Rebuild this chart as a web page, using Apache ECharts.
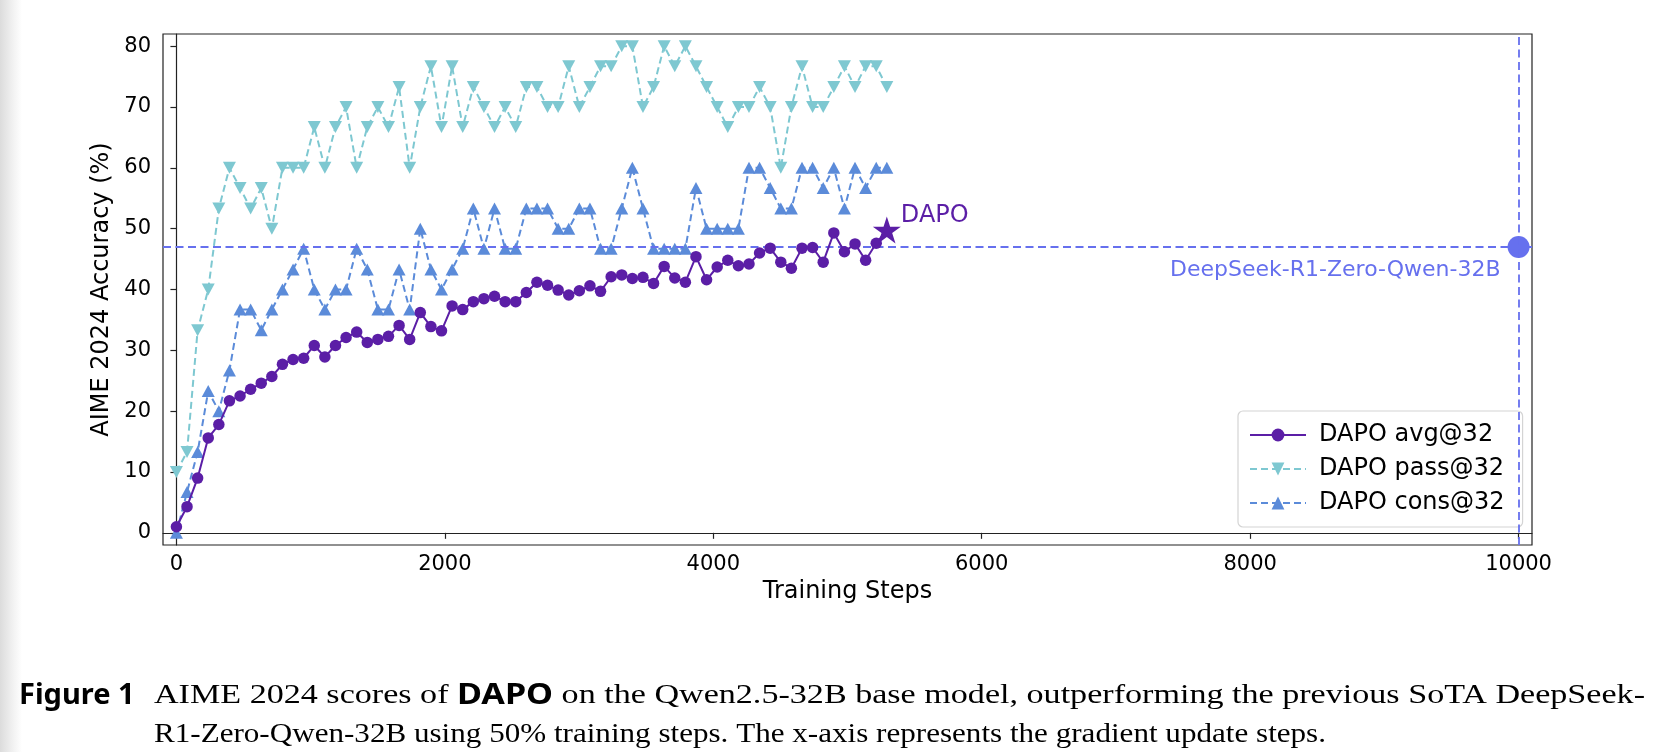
<!DOCTYPE html>
<html>
<head>
<meta charset="utf-8">
<script src="https://cdn.jsdelivr.net/npm/echarts@6.0.0/dist/echarts.min.js"></script>
<style>
html,body{margin:0;padding:0;background:#ffffff;}
#chart{width:1666px;height:752px;}
</style>
</head>
<body>
<div id="chart"></div>
<script>
// ---------------- data ----------------
const steps = [0,79,158,237,316,395,474,553,632,711,790,869,948,1027,1106,1185,1264,1343,1422,1501,1580,1659,1738,1817,1896,1975,2054,2133,2212,2291,2370,2449,2528,2607,2686,2765,2844,2923,3002,3081,3160,3239,3318,3397,3476,3555,3634,3713,3792,3871,3950,4029,4108,4187,4266,4345,4424,4503,4582,4661,4740,4819,4898,4977,5056,5135,5214,5293];
const avg32 = [1.0,4.3,9.0,15.6,17.8,21.7,22.5,23.6,24.6,25.7,27.7,28.5,28.7,30.8,28.9,30.8,32.1,33.0,31.3,31.8,32.3,34.1,31.8,36.2,33.9,33.2,37.3,36.7,38.0,38.5,38.9,38.0,38.0,39.5,41.2,40.7,39.9,39.1,39.8,40.6,39.7,42.1,42.4,41.8,42.0,41.0,43.8,41.9,41.2,45.4,41.6,43.7,44.8,43.9,44.2,46.0,46.8,44.5,43.5,46.8,46.9,44.5,49.3,46.2,47.5,44.8,47.6,49.8];
const pass32 = [10,13.3,33.3,40,53.3,60,56.7,53.3,56.7,50,60,60,60,66.7,60,66.7,70,60,66.7,70,66.7,73.3,60,70,76.7,66.7,76.7,66.7,73.3,70,66.7,70,66.7,73.3,73.3,70,70,76.7,70,73.3,76.7,76.7,80,80,70,73.3,80,76.7,80,76.7,73.3,70,66.7,70,70,73.3,70,60,70,76.7,70,70,73.3,76.7,73.3,76.7,76.7,73.3];
const cons32 = [0,6.7,13.3,23.3,20,26.7,36.7,36.7,33.3,36.7,40,43.3,46.7,40,36.7,40,40,46.7,43.3,36.7,36.7,43.3,36.7,50,43.3,40,43.3,46.7,53.3,46.7,53.3,46.7,46.7,53.3,53.3,53.3,50,50,53.3,53.3,46.7,46.7,53.3,60,53.3,46.7,46.7,46.7,46.7,56.7,50,50,50,50,60,60,56.7,53.3,53.3,60,60,56.7,60,53.3,60,56.7,60,60];
const seriesNames = ['DAPO avg@32','DAPO pass@32','DAPO cons@32'];
const xTicks = [0,2000,4000,6000,8000,10000];
const yTicks = [0,10,20,30,40,50,60,70,80];
const xRange = [-100, 10100];
const yRange = [-2, 82];
const baselineName = 'DeepSeek-R1-Zero-Qwen-32B';
const baselineStep = [10000];
const baselineScore = [47];
const finalLabel = 'DAPO';

// ---------------- styles ----------------
const C_AVG = '#5b1ea6', C_PASS = '#7ec8d1', C_CONS = '#5b8bd9', C_DS = '#6670ee';
const FONT = 'DejaVu Sans';
const STAR = 'path://M0,-1L0.2245,-0.309L0.951,-0.309L0.363,0.118L0.588,0.809L0,0.382L-0.588,0.809L-0.363,0.118L-0.951,-0.309L-0.2245,-0.309Z';

const avgData = steps.map((s, i) => {
  if (i === steps.length - 1) {
    return {
      value: [s, avg32[i]], symbol: STAR, symbolSize: [28, 27],
      label: {show: true, formatter: finalLabel, position: 'right', distance: 0, offset: [0, -14],
              color: C_AVG, fontSize: 24, fontFamily: FONT}
    };
  }
  return [s, avg32[i]];
});
const passData = steps.map((s, i) => [s, pass32[i]]);
const consData = steps.map((s, i) => [s, cons32[i]]);

// caption measurement
function mw(font, text) {
  const c = document.createElement('canvas').getContext('2d');
  c.font = font; return c.measureText(text).width;
}
const SERIF = '28px "Liberation Serif"';
const BOLD = 'bold 28px "Noto Sans"';
const cap1a = 'AIME 2024 scores of ', cap1b = 'DAPO', cap1c = ' on the Qwen2.5-32B base model, outperforming the previous SoTA DeepSeek-';
const cap2 = 'R1-Zero-Qwen-32B using 50% training steps. The x-axis represents the gradient update steps.';
const w1 = mw(SERIF, cap1a) + mw(BOLD, cap1b) + mw(SERIF, cap1c);
const w2 = mw(SERIF, cap2);
const sx1 = 1491 / w1, sx2 = 1172 / w2;
const rich = {
  s: {fontFamily: 'Liberation Serif', fontSize: 28, color: '#111'},
  b: {fontFamily: 'Noto Sans', fontWeight: 'bold', fontSize: 28, color: '#111'},
  f: {fontFamily: 'Noto Sans', fontWeight: 'bold', fontSize: 29, color: '#111'}
};
const plain = v => String(v);

const chart = echarts.init(document.getElementById('chart'), null, {renderer: 'canvas'});
chart.setOption({
  animation: false,
  backgroundColor: '#ffffff',
  grid: {left: 163, top: 34, right: 134, bottom: 207, show: true, borderColor: '#222', borderWidth: 1.2, backgroundColor: 'transparent'},
  xAxis: {
    type: 'value', min: xRange[0], max: xRange[1],
    name: 'Training Steps', nameLocation: 'middle', nameGap: 26,
    nameTextStyle: {fontFamily: FONT, fontSize: 24, color: '#000'},
    axisLine: {show: true, lineStyle: {color: '#222', width: 1.2}},
    axisTick: {show: true, length: 6, lineStyle: {color: '#222', width: 1.2}, customValues: xTicks},
    axisLabel: {fontFamily: FONT, fontSize: 21, color: '#000', margin: 9, customValues: xTicks, formatter: plain},
    splitLine: {show: false}
  },
  yAxis: {
    type: 'value', min: yRange[0], max: yRange[1],
    name: 'AIME 2024 Accuracy (%)', nameLocation: 'middle', nameGap: 34,
    nameTextStyle: {fontFamily: FONT, fontSize: 24, color: '#000'},
    axisLine: {show: true, lineStyle: {color: '#222', width: 1.2}},
    axisTick: {show: true, length: 6, lineStyle: {color: '#222', width: 1.2}, customValues: yTicks},
    axisLabel: {fontFamily: FONT, fontSize: 21, color: '#000', margin: 12, customValues: yTicks, formatter: plain},
    splitLine: {show: false}
  },
  legend: {
    data: seriesNames, orient: 'vertical', left: 1238, top: 411,
    padding: [12, 18, 12, 11], itemGap: 10, itemWidth: 56, itemHeight: 16,
    backgroundColor: 'rgba(255,255,255,0.85)', borderColor: '#d4d4d4', borderWidth: 1.2, borderRadius: 5,
    textStyle: {fontFamily: FONT, fontSize: 24, color: '#000', padding: [0, 0, 0, 8]},
    selectedMode: false
  },
  series: [
    {
      name: baselineName, type: 'scatter', data: baselineStep.map((s, i) => [s, baselineScore[i]]),
      symbol: 'circle', symbolSize: 22, itemStyle: {color: C_DS, opacity: 1}, z: 1, clip: false,
      label: {show: true, formatter: baselineName, position: 'left', distance: 7, offset: [0, 23],
              color: C_DS, opacity: 1, fontSize: 22, fontFamily: FONT},
      markLine: {
        silent: true, symbol: ['none', 'none'], animation: false,
        lineStyle: {color: C_DS, type: [8, 4.5], width: 1.8, opacity: 1},
        label: {show: false},
        data: [{yAxis: baselineScore[0]}, {xAxis: baselineStep[0]}]
      }
    },
    {
      name: seriesNames[1], type: 'line', data: passData, clip: false, z: 3,
      symbol: 'triangle', symbolRotate: 180, symbolSize: [13, 12], showSymbol: true,
      itemStyle: {color: C_PASS}, lineStyle: {color: C_PASS, width: 2, type: [7, 4]}
    },
    {
      name: seriesNames[2], type: 'line', data: consData, clip: false, z: 4,
      symbol: 'triangle', symbolSize: [13, 12], showSymbol: true,
      itemStyle: {color: C_CONS}, lineStyle: {color: C_CONS, width: 2, type: [7, 4]}
    },
    {
      name: seriesNames[0], type: 'line', data: avgData, clip: false, z: 5,
      symbol: 'circle', symbolSize: 11.5, showSymbol: true,
      itemStyle: {color: C_AVG}, lineStyle: {color: C_AVG, width: 2}
    }
  ],
  graphic: [
    {type: 'rect', left: 0, top: 0, z: -10, shape: {width: 22, height: 752},
     style: {fill: new echarts.graphic.LinearGradient(0, 0, 1, 0, [{offset: 0, color: '#dcdcdc'}, {offset: 0.6, color: '#f2f2f2'}, {offset: 1, color: '#ffffff'}])}},
    {type: 'text', x: 19, y: 696, style: {text: '{f|Figure 1}', rich: rich, verticalAlign: 'middle'}},
    {type: 'text', x: 154, y: 696, scaleX: sx1,
     style: {text: '{s|' + cap1a + '}{b|' + cap1b + '}{s|' + cap1c + '}', rich: rich, verticalAlign: 'middle'}},
    {type: 'text', x: 154, y: 735, scaleX: sx2,
     style: {text: '{s|' + cap2 + '}', rich: rich, verticalAlign: 'middle'}}
  ]
});
</script>
</body>
</html>
